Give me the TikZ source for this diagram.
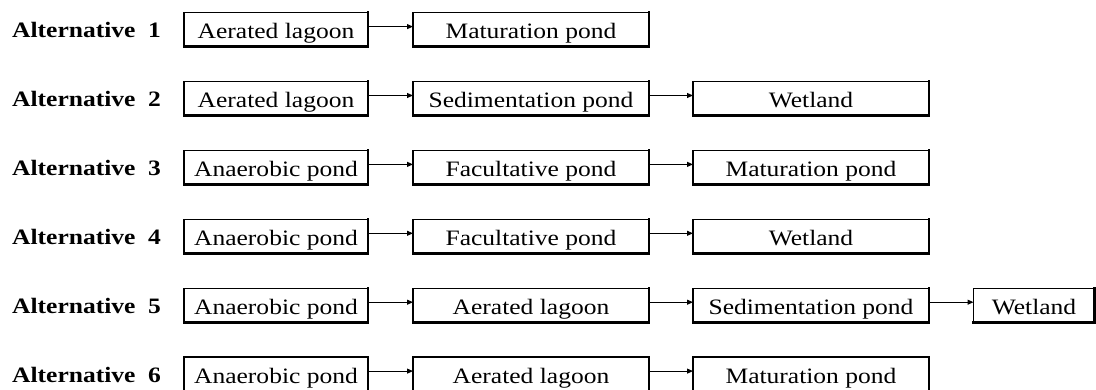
\documentclass[tikz,border=0pt]{standalone}
\usepackage{fontspec}
\setmainfont{Liberation Serif}[FakeStretch=1.16]
\usetikzlibrary{arrows.meta}
\begin{document}
\begin{tikzpicture}[x=1pt,y=1pt,
  unit/.style={draw, rectangle, line width=1.3pt, minimum height=34pt,
    inner sep=0pt, outer sep=0pt, text height=18pt, text depth=0pt,
    font=\fontsize{22}{24}\selectfont},
  altlabel/.style={anchor=base west, inner sep=0pt, font=\fontsize{22}{24}\selectfont\bfseries},
  flow/.style={line width=1pt, -{Triangle[length=6pt,width=5pt]}},
  shade/.style={line width=2.8pt, line cap=rect}
]
\useasboundingbox (0,0) rectangle (1096,390);

% column centres and widths
\def\cA{276}\def\wA{184pt}
\def\cB{531}\def\wB{236pt}
\def\cC{811}\def\wC{236pt}
\def\cD{1034}\def\wD{121pt}

% row centres
\def\rA{360.4}\def\rB{291.5}\def\rC{222.6}\def\rD{153.7}\def\rE{84.8}\def\rF{15.9}

% labels
\node[altlabel] (l1) at (12,\rA-8) {Alternative~~1};
\node[altlabel] (l2) at (12,\rB-8) {Alternative~~2};
\node[altlabel] (l3) at (12,\rC-8) {Alternative~~3};
\node[altlabel] (l4) at (12,\rD-8) {Alternative~~4};
\node[altlabel] (l5) at (12,\rE-8) {Alternative~~5};
\node[altlabel] (l6) at (12,\rF-8) {Alternative~~6};

% alternative 1
\node[unit, minimum width=\wA] (a1) at (\cA,\rA) {Aerated lagoon};
\node[unit, minimum width=\wB] (a2) at (\cB,\rA) {Maturation pond};
% alternative 2
\node[unit, minimum width=\wA] (b1) at (\cA,\rB) {Aerated lagoon};
\node[unit, minimum width=\wB] (b2) at (\cB,\rB) {Sedimentation pond};
\node[unit, minimum width=\wC] (b3) at (\cC,\rB) {Wetland};
% alternative 3
\node[unit, minimum width=\wA] (c1) at (\cA,\rC) {Anaerobic pond};
\node[unit, minimum width=\wB] (c2) at (\cB,\rC) {Facultative pond};
\node[unit, minimum width=\wC] (c3) at (\cC,\rC) {Maturation pond};
% alternative 4
\node[unit, minimum width=\wA] (d1) at (\cA,\rD) {Anaerobic pond};
\node[unit, minimum width=\wB] (d2) at (\cB,\rD) {Facultative pond};
\node[unit, minimum width=\wC] (d3) at (\cC,\rD) {Wetland};
% alternative 5
\node[unit, minimum width=\wA] (e1) at (\cA,\rE) {Anaerobic pond};
\node[unit, minimum width=\wB] (e2) at (\cB,\rE) {Aerated lagoon};
\node[unit, minimum width=\wC] (e3) at (\cC,\rE) {Sedimentation pond};
\node[unit, minimum width=\wD] (e4) at (\cD,\rE) {Wetland};
% alternative 6
\node[unit, minimum width=\wA] (f1) at (\cA,\rF) {Anaerobic pond};
\node[unit, minimum width=\wB] (f2) at (\cB,\rF) {Aerated lagoon};
\node[unit, minimum width=\wC] (f3) at (\cC,\rF) {Maturation pond};

% heavier right and bottom edges
\foreach \n in {a1,a2,b1,b2,b3,c1,c2,c3,d1,d2,d3,e1,e2,e3,e4,f1,f2,f3}
  \draw[shade] (\n.north east) -- (\n.south east) -- (\n.south west);

% flow arrows
\foreach \p/\q in {a1/a2, b1/b2, b2/b3, c1/c2, c2/c3, d1/d2, d2/d3,
                   e1/e2, e2/e3, e3/e4, f1/f2, f2/f3}
  \draw[flow] ([yshift=3pt]\p.east) -- ([yshift=3pt]\q.west);
\end{tikzpicture}
\end{document}
